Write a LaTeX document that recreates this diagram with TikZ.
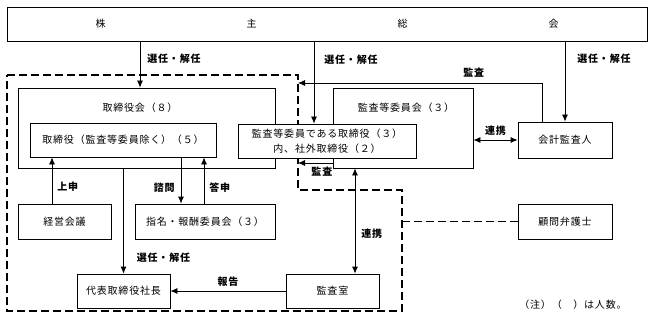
\documentclass[tikz,border=0pt]{standalone}
\usepackage{fontspec}
\setmainfont[LetterSpace=8]{Noto Sans CJK JP}
\usetikzlibrary{positioning,arrows.meta}

\begin{document}
\begin{tikzpicture}[
  x = 1pt, y = -1pt, font = \fontsize{10}{15}\selectfont,
  box/.style  = {rectangle, draw, fill=white, align=center, inner sep=2pt, line width=0.8pt},
  lbl/.style  = {font=\fontsize{10}{12}\selectfont\bfseries, inner sep=2pt},
  arr/.style  = {-{Latex[length=7pt,width=6pt]}, line width=0.8pt},
  arrs/.style = {{Latex[length=7pt,width=6pt]}-{Latex[length=7pt,width=6pt]}, line width=0.8pt},
  grp/.style  = {line width=1.9pt, dash pattern=on 8pt off 4pt}
]
\useasboundingbox (0,0) rectangle (653,326);
\node[box, minimum width=640pt, minimum height=34pt] (share) at (327,24) {株\hspace{141pt}主\hspace{141pt}総\hspace{141pt}会};
\node[box, minimum width=257pt, minimum height=80pt] (board) at (146.5,128) {};
\node (boardtitle) at (140,108) {取締役会（８）};
\node[box, minimum width=140pt, minimum height=80pt] (acbd) at (403,128) {};
\node (acbdtitle) at (406,108) {監査等委員会（３）};
\node[box, minimum width=186pt, minimum height=34pt] (dirs) at (123,140) {取締役（監査等委員除く）（５）};
% group boundary
\coordinate (grpa) at (7,75);
\coordinate (grpb) at (298,75);
\coordinate (grpc) at (298,190);
\coordinate (grpd) at (402,190);
\coordinate (grpe) at (402,311);
\coordinate (grpf) at (7,311);
\draw[grp] (grpa) -- (grpb) -- (grpc) -- (grpd) -- (grpe) -- (grpf) -- cycle;
\node[box, minimum width=178pt, minimum height=34pt] (acdir) at (327,141) {監査等委員である取締役（３）\\内、社外取締役（２）};
\node[box, minimum width=94pt, minimum height=36pt] (auditor) at (565,140) {会計監査人};
\node[box, minimum width=93pt, minimum height=35pt] (mgmt) at (64.5,221.5) {経営会議};
\node[box, minimum width=140pt, minimum height=35pt] (nomcomp) at (205,221.5) {指名・報酬委員会（３）};
\node[box, minimum width=93pt, minimum height=34pt] (ceo) at (123.5,291) {代表取締役社長};
\node[box, minimum width=93pt, minimum height=34pt] (audroom) at (332.5,291) {監査室};
\node[box, minimum width=94pt, minimum height=35pt] (lawyer) at (565,221.5) {顧問弁護士};
\node (note) at (573,305) {（注）（　）は人数。};
% connectors
\coordinate (acdirin) at ([xshift=-13pt]acdir.north);
\coordinate (audin) at ([xshift=-23pt]auditor.north);
\coordinate (grpaud) at (298,83);
\coordinate (grpaudb) at (298,163);
\coordinate (mgmtin) at ([xshift=-12.5pt]mgmt.north);
\coordinate (dirsout) at ([xshift=58pt]dirs.south);
\coordinate (nomin) at ([xshift=-1pt]nomcomp.north);
\coordinate (audroomin) at ([xshift=22.5pt]audroom.north);
\draw[arr] (share.south -| boardtitle) -- node[lbl, right=5pt, pos=0.38]{選任・解任} (board.north -| boardtitle);
\draw[arr] (acdirin |- share.south) -- node[lbl, right=8pt, pos=0.22]{選任・解任} (acdirin);
\draw[arr] (share.south -| auditor.north) -- node[lbl, right=10pt, pos=0.22]{選任・解任} (auditor.north);
\draw[arr] (audin) |- node[lbl, above=3pt, pos=0.64]{監査} (grpaud);
\draw[arr] (acbd.west |- grpaudb) -- node[lbl, below=2pt, pos=0.31]{監査} (grpaudb);
\draw[arrs] (auditor.west -| acbd.east) -- node[lbl, above=2pt]{連携} (auditor.west);
\draw[arr] (mgmtin) -- node[lbl, right=3pt, pos=0.36]{上申} (mgmtin |- dirs.south);
\draw[arr] (dirsout) -- node[lbl, left=4pt, pos=0.66]{諮問} (dirsout |- nomcomp.north);
\draw[arr] (nomin) -- node[lbl, right=3pt, pos=0.34]{答申} (nomin |- dirs.south);
\draw[arr] (board.south -| ceo.north) -- node[lbl, right=11pt, pos=0.85]{選任・解任} (ceo.north);
\draw[arr] (audroom.west) -- node[lbl, above=2pt]{報告} (ceo.east);
\draw[arrs] (audroomin |- acbd.south) -- node[lbl, right=4pt, pos=0.62]{連携} (audroomin);
\draw[grp] (lawyer.west) -- (lawyer.west -| grpd);
\end{tikzpicture}
\end{document}
